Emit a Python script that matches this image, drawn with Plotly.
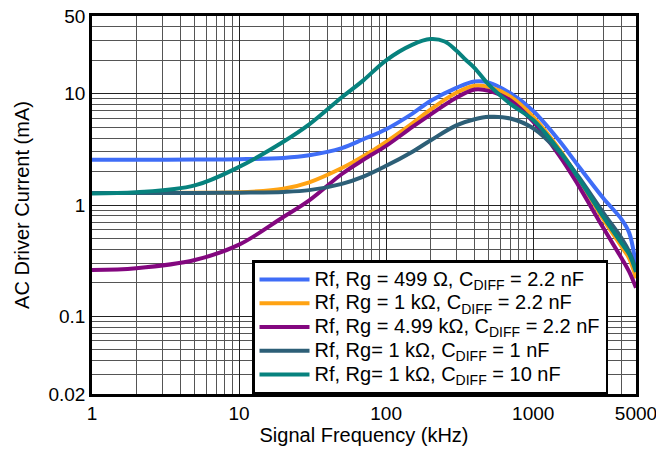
import plotly.graph_objects as go

freq = [1, 2, 5, 10, 20, 30, 50, 70, 100, 150, 200, 300, 400, 500, 700, 1000, 1500, 2000, 3000, 4000, 4500, 5000]

blue_499_2n2 = [2.55, 2.55, 2.56, 2.58, 2.65, 2.8, 3.25, 3.9, 4.8, 6.6, 8.6, 11.3, 12.9, 12.6, 10.1, 7.0, 3.8, 2.3, 1.15, 0.74, 0.56, 0.28]
orange_1k_2n2 = [1.28, 1.28, 1.29, 1.3, 1.4, 1.6, 2.15, 2.75, 3.7, 5.4, 7.2, 10.2, 11.8, 11.5, 9.4, 6.2, 3.2, 1.8, 0.74, 0.42, 0.33, 0.22]
purple_4k99_2n2 = [0.26, 0.27, 0.32, 0.44, 0.78, 1.1, 1.9, 2.55, 3.4, 5.0, 6.5, 9.2, 10.9, 10.6, 8.7, 5.6, 2.8, 1.55, 0.62, 0.33, 0.25, 0.18]
slate_1k_1n = [1.28, 1.28, 1.28, 1.29, 1.31, 1.36, 1.55, 1.8, 2.25, 3.0, 3.8, 5.2, 5.9, 6.2, 6.0, 4.9, 3.0, 1.85, 0.85, 0.5, 0.38, 0.26]

freq_teal = [1, 2, 5, 10, 20, 30, 50, 70, 100, 150, 200, 250, 300, 350, 400, 500, 700, 1000, 1500, 2000, 3000, 4000, 4500, 5000]
teal_1k_10n = [1.27, 1.3, 1.5, 2.2, 3.7, 5.3, 9.3, 13.2, 20.0, 27.5, 31.0, 29.5, 24.5, 20.0, 17.0, 12.0, 8.1, 5.8, 3.1, 1.8, 0.78, 0.45, 0.36, 0.25]

names = [
    "Rf, Rg = 499 Ω, C<sub>DIFF</sub> = 2.2 nF",
    "Rf, Rg = 1 kΩ, C<sub>DIFF</sub> = 2.2 nF",
    "Rf, Rg = 4.99 kΩ, C<sub>DIFF</sub> = 2.2 nF",
    "Rf, Rg= 1 kΩ, C<sub>DIFF</sub> = 1 nF",
    "Rf, Rg= 1 kΩ, C<sub>DIFF</sub> = 10 nF",
]
colors = ["#3F6DF7", "#FFA313", "#83077F", "#2D5F77", "#07827E"]

series = [
    (freq, blue_499_2n2),
    (freq, orange_1k_2n2),
    (freq, purple_4k99_2n2),
    (freq, slate_1k_1n),
    (freq_teal, teal_1k_10n),
]

fig = go.Figure()
for i in range(5):
    x, y = series[i]
    label = '<span style="font-size:20px">' + names[i] + '</span>'
    fig.add_trace(go.Scatter(x=x, y=y, mode="lines", name=label,
                             line=dict(color=colors[i], width=4, shape="spline", smoothing=1.0)))

font_family = "Liberation Sans, Arial, sans-serif"
fig.update_layout(
    width=656, height=451,
    margin=dict(l=92, r=20, t=16, b=57),
    paper_bgcolor="white", plot_bgcolor="white",
    font=dict(family=font_family, size=19, color="black"),
    showlegend=True,
    legend=dict(x=(608 - 92) / 544, y=0, xanchor="right", yanchor="bottom",
                bgcolor="white", bordercolor="black", borderwidth=2.5,
                font=dict(size=16, family=font_family, color="black"),
                tracegroupgap=0, itemwidth=50),
)
fig.update_xaxes(
    type="log", range=[0, 3.69897], automargin=False,
    tickmode="array", tickvals=[1, 10, 100, 1000, 5000], ticktext=["1", "10", "100", "1000", "5000"],
    tickfont=dict(size=19), ticklabeloverflow="allow",
    showgrid=True, gridcolor="#222", gridwidth=1,
    minor=dict(dtick="D1", showgrid=True, gridcolor="#555", gridwidth=1, ticks=""),
    showline=True, linecolor="black", linewidth=2.5, mirror=True,
    ticks="", zeroline=False,
    title=dict(text="Signal Frequency (kHz)", standoff=6, font=dict(size=20)),
)
fig.update_yaxes(
    type="log", range=[-1.69897, 1.69897], automargin=False,
    tickmode="array", tickvals=[0.02, 0.1, 1, 10, 50], ticktext=["0.02", "0.1", "1", "10", "50"],
    tickfont=dict(size=19), ticklabeloverflow="allow",
    showgrid=True, gridcolor="#222", gridwidth=1,
    minor=dict(dtick="D1", showgrid=True, gridcolor="#555", gridwidth=1, ticks=""),
    showline=True, linecolor="black", linewidth=2.5, mirror=True,
    ticks="", zeroline=False,
    title=dict(text="AC Driver Current (mA)", standoff=14, font=dict(size=20)),
)

fig.write_html("out.html")
